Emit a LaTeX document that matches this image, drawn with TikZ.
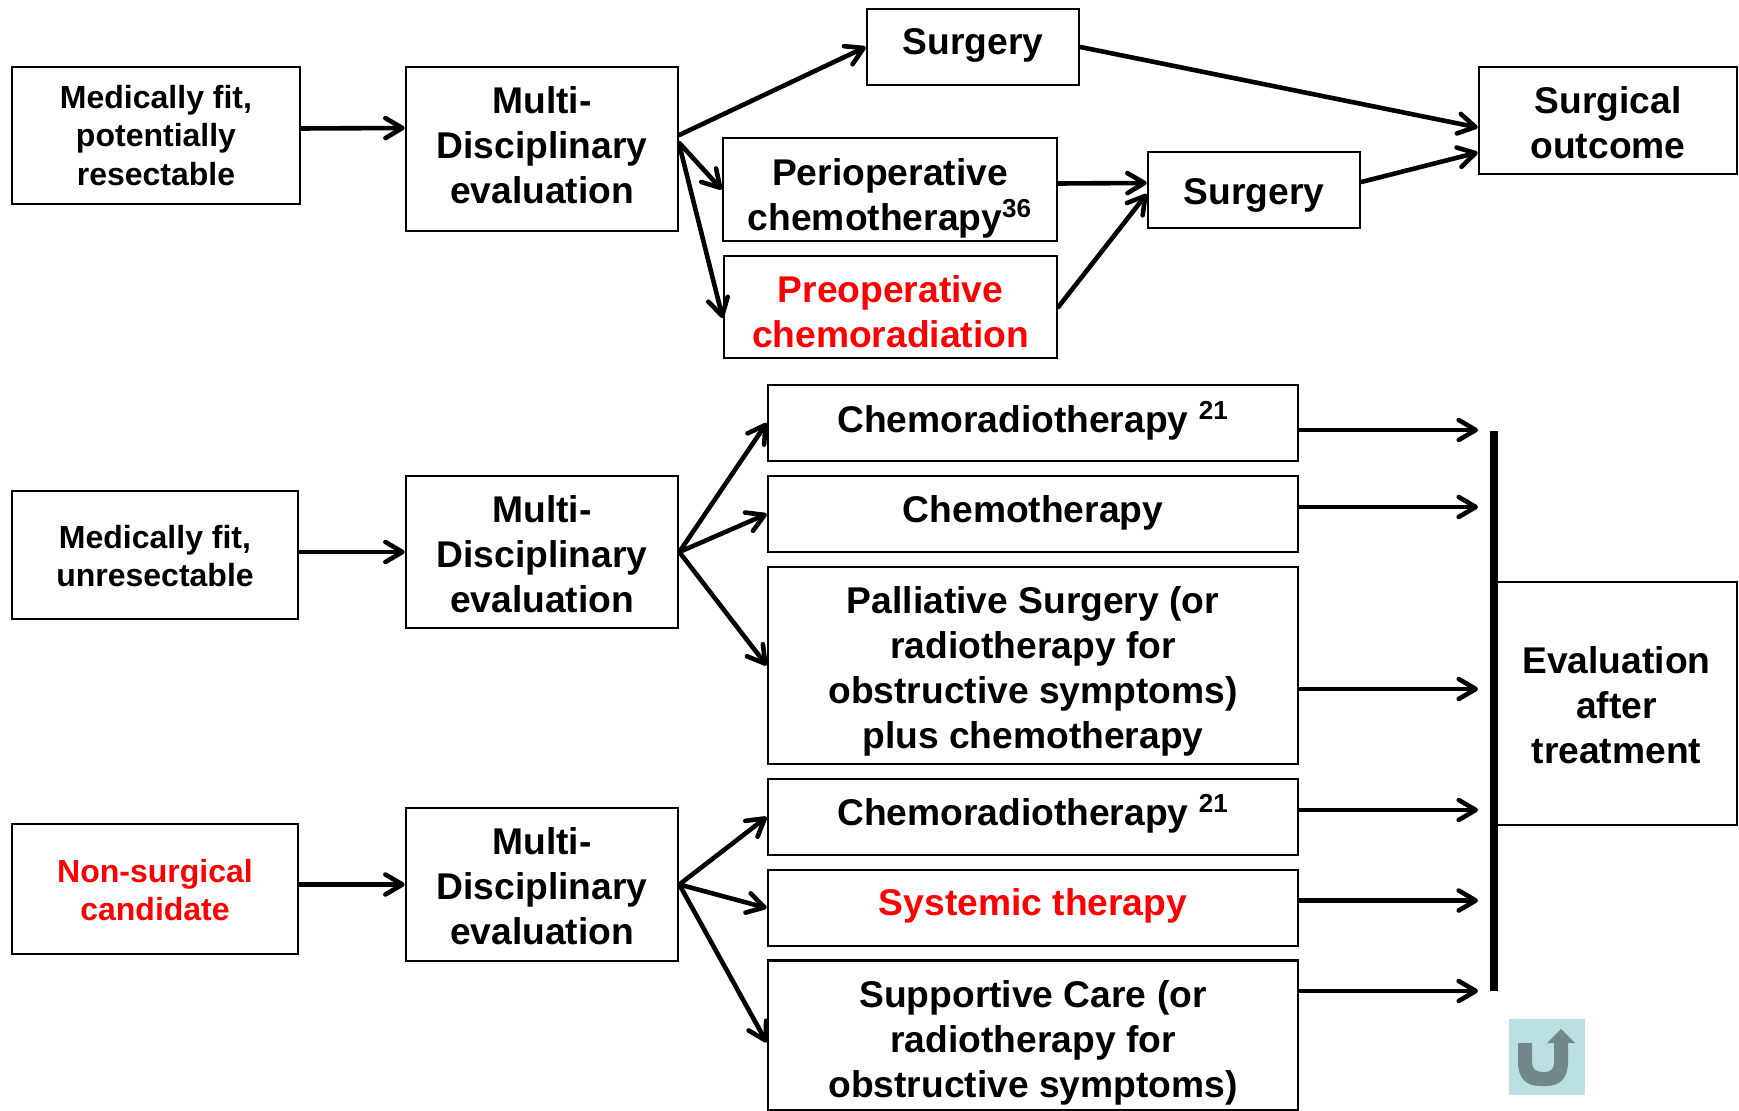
\documentclass[tikz,border=0pt]{standalone}
\usepackage{fontspec}
\setmainfont{Liberation Sans}
\usepackage{tikz}
\usetikzlibrary{arrows.meta,calc}
\definecolor{iconback}{HTML}{BBE0E3}
\definecolor{iconarrow}{HTML}{71878A}
\tikzstyle{arrow} = [line width=2.3pt,line cap=round,-{Straight Barb[round,length=8.5pt,width=10pt,line width=2.3pt]}]
\newcommand{\lowertext}[1]{\rule{0pt}{#1}}
\newcommand{\raisetext}[1]{\rule[-#1]{0pt}{#1}}
\begin{document}
\begin{tikzpicture}
[x=0.5pt,y=-0.5pt, bigbox/.style={rectangle,draw=black,line width=1.3pt,inner sep=0pt,align=center,font=\bfseries\fontsize{18.6}{22.5}\selectfont},
smallbox/.style={bigbox,font=\bfseries\fontsize{16}{19.3}\selectfont},
multibox/.style={bigbox,minimum width=136pt},
surgerybox/.style={bigbox,minimum width=106pt,minimum height=38pt},
treatbox/.style={bigbox,minimum width=265pt},
redtext/.style={text=red},]
\useasboundingbox (0,0) rectangle (1739,1111);
\node[smallbox,minimum width=144pt,minimum height=68.5pt] (fit1) at (156,135.5) {Medically fit,\\potentially\\resectable};
\node[multibox,minimum height=82pt] (multi1) at (542,149) {Multi-\\Disciplinary\\evaluation\raisetext{4.4pt}};
\node[surgerybox] (surgery1) at (973,47) {Surgery\raisetext{5.9pt}};
\node[bigbox,minimum width=167pt,minimum height=51.5pt] (peri) at (890,189.5) {\lowertext{22.3pt}Perioperative\\chemotherapy\textsuperscript{36}};
\node[bigbox,redtext,minimum width=166.5pt,minimum height=51pt] (preop) at (890.5,307) {\lowertext{18pt}Preoperative\\chemoradiation};
\node[surgerybox] (surgery2) at (1254,190) {\lowertext{18.2pt}Surgery};
\node[bigbox,minimum width=129pt,minimum height=53.5pt] (outcome) at (1608,120.5) {\lowertext{15.5pt}Surgical\\outcome};

\node[smallbox,minimum width=143pt,minimum height=64pt] (fit2) at (155,555) {\lowertext{12.7pt}Medically fit,\\unresectable};
\node[multibox,minimum height=76pt] (multi2) at (542,552) {\lowertext{15.5pt}Multi-\\Disciplinary\\evaluation};
\node[treatbox,minimum height=38pt] (chemorad1) at (1033,423) {Chemoradiotherapy \textsuperscript{21}\raisetext{5.9pt}};
\node[treatbox,minimum height=38pt] (chemo) at (1033,514) {Chemotherapy\raisetext{4.9pt}};
\node[treatbox,minimum height=98.5pt] (palliative) at (1033,665.5) {\lowertext{19pt}Palliative Surgery (or\\radiotherapy for\\obstructive symptoms)\\plus chemotherapy};

\node[smallbox,redtext,minimum width=143pt,minimum height=65pt] (nonsurg) at (155,889) {\lowertext{12.7pt}Non-surgical\\candidate};
\node[multibox,minimum height=76.5pt] (multi3) at (542,884.5) {\lowertext{15.5pt}Multi-\\Disciplinary\\evaluation};
\node[treatbox,minimum height=38pt] (chemorad2) at (1033,817) {Chemoradiotherapy \textsuperscript{21}\raisetext{6.9pt}};
\node[treatbox,redtext,minimum height=38pt] (systemic) at (1033,908) {Systemic therapy\raisetext{5.9pt}};
\node[treatbox,minimum height=75pt] (supportive) at (1033,1035.5) {\lowertext{21.2pt}Supportive Care (or\\radiotherapy for\\obstructive symptoms)};

\node[bigbox,minimum width=120.5pt,minimum height=121.5pt] (evaluation) at (1616.5,703.5) {\lowertext{15.5pt}Evaluation\\after\\treatment};

\coordinate (bartop) at (1494,431);
\coordinate (barbottom) at (1494,990.5);
\coordinate (end1) at (1478,430);
\coordinate (end2) at (1478,507);
\coordinate (end3) at (1478,689);
\coordinate (end4) at (1478,810);
\coordinate (end5) at (1478,900.5);
\coordinate (end6) at (1478,991);
\draw[line width=3.75pt] (bartop) -- (barbottom);

\draw[arrow] ([yshift=3.5pt]fit1.east) -- ([yshift=10.5pt]multi1.west);
\draw[arrow] ([yshift=7pt]multi1.east) -- (surgery1.west);
\draw[arrow] ([yshift=3pt]multi1.east) -- (peri.west);
\draw[arrow] ([yshift=2pt]multi1.east) -- ([yshift=-5.5pt]preop.west);
\draw[arrow] (surgery1.east) -- ([yshift=-3.5pt]outcome.west);
\draw[arrow] ([yshift=4pt]surgery2.east) -- ([yshift=-16pt]outcome.west);
\draw[arrow] ([yshift=3pt]peri.east) -- ([yshift=3.5pt]surgery2.west);
\draw[arrow] (preop.east) -- ([yshift=-2pt]surgery2.west);

\draw[arrow] (fit2.east |- multi2.west) -- (multi2.west);
\draw[arrow] (multi2.east) -- (chemorad1.west);
\draw[arrow] (multi2.east) -- (chemo.west);
\draw[arrow] (multi2.east) -- (palliative.west);

\draw[arrow] (nonsurg.east |- multi3.west) -- (multi3.west);
\draw[arrow] (multi3.east) -- (chemorad2.west);
\draw[arrow] (multi3.east) -- (systemic.west);
\draw[arrow] (multi3.east) -- ([yshift=-3.5pt]supportive.west);

\draw[arrow] (chemorad1.east |- end1) -- (end1);
\draw[arrow] (chemo.east |- end2) -- (end2);
\draw[arrow] (palliative.east |- end3) -- (end3);
\draw[arrow] (chemorad2.east |- end4) -- (end4);
\draw[arrow] (systemic.east |- end5) -- (end5);
\draw[arrow] (supportive.east |- end6) -- (end6);

\fill[iconback] (1509,1019) rectangle (1585,1095);
\fill[iconarrow] (1518,1043) -- (1532,1043) -- (1532,1062) .. controls (1532,1069) and (1536,1072) .. (1543,1072) -- (1545,1072) .. controls (1551,1072) and (1554,1069) .. (1554,1062) -- (1554,1043) -- (1547,1043) -- (1561,1029) -- (1575,1043) -- (1568,1043) -- (1568,1062) .. controls (1568,1078) and (1560,1086) .. (1546,1086) -- (1540,1086) .. controls (1526,1086) and (1518,1078) .. (1518,1062) -- cycle;
\end{tikzpicture}
\end{document}
